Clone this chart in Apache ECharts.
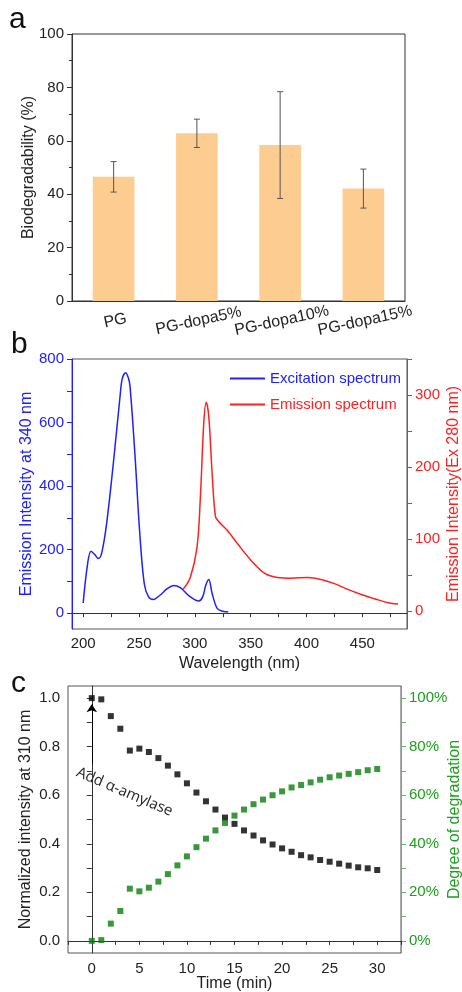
<!DOCTYPE html>
<html>
<head>
<meta charset="utf-8">
<script src="https://cdn.jsdelivr.net/npm/echarts@6/dist/echarts.min.js"></script>
<style>
html,body{margin:0;padding:0;background:#fff;}
#chart{width:462px;height:992px;}
</style>
</head>
<body>
<div id="chart"></div>
<script>
// ---------- Panel a data ----------
const aCategories = ['PG', 'PG-dopa5%', 'PG-dopa10%', 'PG-dopa15%'];
const aValues = [46.5, 62.8, 58.4, 42.1];
const aErrors = [5.7, 5.3, 20.0, 7.3];

// ---------- Panel b data ----------
const bExcitation = [[200,32],[204,156],[207,195],[210,186],[213.5,172],[216.5,188],[221,282],[227,471],[233,681],[235,738],[238,757],[240.5,740],[242,713],[246.5,492],[250.5,261],[254.7,93],[258.6,51],[263,43],[269,57],[275,76],[281,87],[287,80],[296,51],[303.5,38],[307,51],[310,90],[312.5,106],[315.5,62],[320,15],[325,6],[330,4]];
const bEmission = [[289.5,30],[296,47],[302,89],[305,159],[308,261],[310.2,290],[312.5,270],[315.5,191],[318.5,131],[321.5,124],[329,112],[338,94],[350,71],[362,53],[374,46.5],[386,45.6],[401,46.5],[413,43.7],[425,38],[437,30],[449,23],[461,17],[473,11.5],[482,9.6]];

// ---------- Panel c data ----------
const cTime = [0,1,2,3,4,5,6,7,8,9,10,11,12,13,14,15,16,17,18,19,20,21,22,23,24,25,26,27,28,29,30];
const cIntensity = [1.0,0.995,0.926,0.874,0.784,0.792,0.778,0.753,0.722,0.686,0.649,0.611,0.575,0.541,0.508,0.482,0.455,0.434,0.414,0.397,0.381,0.367,0.353,0.344,0.333,0.326,0.318,0.310,0.303,0.299,0.292];
const cDegradation = [0,0.3,7.1,12.3,21.5,20.4,21.9,24.4,27.5,31.1,34.8,38.6,42.1,45.5,48.6,51.6,54.1,56.3,58.2,60.0,61.6,63.2,64.2,65.3,66.4,67.4,68.1,68.8,69.5,70.3,70.8];

const FONT = 'Liberation Sans, Arial, sans-serif';
const BLUE = '#2020ff', RED = '#ff2020', GREEN_M = '#0a7d0a', GREEN_T = '#1e9e1e', GREEN_AX = '#5cb85c';
const AX = '#333';

const chart = echarts.init(document.getElementById('chart'), null, {renderer: 'canvas'});

function lbl(color, size) {
  return {color: color, fontSize: size || 15, fontFamily: FONT};
}

const option = {
  animation: false,
  backgroundColor: '#fff',
  textStyle: {fontFamily: FONT},
  graphic: [
    {type: 'text', x: 9, y: 5, style: {text: 'a', fontSize: 30, fontFamily: FONT, fill: '#111'}},
    {type: 'text', x: 11, y: 330, style: {text: 'b', fontSize: 30, fontFamily: FONT, fill: '#111'}},
    {type: 'text', x: 11, y: 669, style: {text: 'c', fontSize: 30, fontFamily: FONT, fill: '#111'}},
    {type: 'text', x: 80, y: 765, rotation: -23 * Math.PI / 180,
     style: {text: 'Add \u03b1-amylase', fontSize: 15, fontFamily: 'Open Sans, sans-serif', fill: '#222'}}
  ],
  legend: {
    data: [
      {name: 'Excitation spectrum', textStyle: {color: BLUE}},
      {name: 'Emission spectrum', textStyle: {color: RED}}
    ],
    icon: 'rect',
    orient: 'vertical', left: 225, top: 366, itemWidth: 35, itemHeight: 2, itemGap: 11,
    textStyle: {fontSize: 15, fontFamily: FONT}
  },
  grid: [
    {left: 72, top: 34, width: 333, height: 267, show: true, borderColor: AX, borderWidth: 1, backgroundColor: 'transparent', outerBoundsMode: 'none', containLabel: false},
    {left: 72, top: 359, width: 335, height: 270, show: true, borderColor: '#555', borderWidth: 1, backgroundColor: 'transparent', outerBoundsMode: 'none', containLabel: false},
    {left: 68, top: 686, width: 333, height: 267, show: true, borderColor: '#555', borderWidth: 1, backgroundColor: 'transparent', outerBoundsMode: 'none', containLabel: false}
  ],
  xAxis: [
    {gridIndex: 0, type: 'category', data: aCategories,
     axisLine: {lineStyle: {color: AX}}, axisTick: {alignWithLabel: true, length: 5, lineStyle: {color: AX}},
     axisLabel: Object.assign(lbl('#222', 16), {rotate: 12, align: 'center', verticalAlign: 'top', margin: 12, interval: 0}),
     splitLine: {show: false}},
    {gridIndex: 1, type: 'value', min: 190, max: 490,
     axisLine: {lineStyle: {color: AX}},
     axisTick: {length: 4, lineStyle: {color: AX}, customValues: [200,225,250,275,300,325,350,375,400,425,450,475]},
     axisLabel: Object.assign(lbl('#222', 15), {customValues: [200,250,300,350,400,450], margin: 7}),
     splitLine: {show: false},
     name: 'Wavelength (nm)', nameLocation: 'middle', nameGap: 27, nameMoveOverlap: false, nameTextStyle: lbl('#222', 16)},
    {gridIndex: 2, type: 'value', min: -2.5, max: 32.5,
     axisLine: {lineStyle: {color: AX}},
     axisTick: {length: 4, lineStyle: {color: AX}, customValues: [-2.5,0,2.5,5,7.5,10,12.5,15,17.5,20,22.5,25,27.5,30,32.5]},
     axisLabel: Object.assign(lbl('#222', 15), {customValues: [0,5,10,15,20,25,30], margin: 8}),
     splitLine: {show: false},
     name: 'Time (min)', nameLocation: 'middle', nameGap: 23, nameMoveOverlap: false, nameTextStyle: lbl('#222', 16)}
  ],
  yAxis: [
    {gridIndex: 0, type: 'value', min: 0, max: 100, interval: 20,
     axisLine: {show: true, lineStyle: {color: AX}},
     axisTick: {show: true, length: 5, lineStyle: {color: AX}},
     minorTick: {show: true, splitNumber: 2, length: 3, lineStyle: {color: AX}},
     axisLabel: Object.assign(lbl('#222', 15), {margin: 8}),
     splitLine: {show: false},
     name: 'Biodegradability (%)', nameLocation: 'middle', nameGap: 35, nameMoveOverlap: false, nameTextStyle: lbl('#222', 16)},
    {gridIndex: 1, type: 'value', min: -50, max: 800,
     axisLine: {show: true, lineStyle: {color: BLUE}},
     axisTick: {show: true, length: 5, lineStyle: {color: BLUE}, customValues: [0,100,200,300,400,500,600,700,800]},
     axisLabel: Object.assign(lbl(BLUE, 15), {customValues: [0,200,400,600,800], margin: 8}),
     splitLine: {show: false},
     name: 'Emission Intensity at 340 nm', nameLocation: 'middle', nameGap: 37, nameMoveOverlap: false, nameTextStyle: lbl(BLUE, 16)},
    {gridIndex: 1, type: 'value', position: 'right', min: -25, max: 350,
     axisLine: {show: true, lineStyle: {color: RED}},
     axisTick: {show: true, length: 5, lineStyle: {color: RED}, customValues: [0,50,100,150,200,250,300,350]},
     axisLabel: Object.assign(lbl(RED, 15), {customValues: [0,100,200,300], margin: 8}),
     splitLine: {show: false},
     name: 'Emission Intensity(Ex 280 nm)', nameLocation: 'middle', nameGap: 39, nameMoveOverlap: false, nameTextStyle: lbl(RED, 16)},
    {gridIndex: 2, type: 'value', min: -0.05, max: 1.05,
     axisLine: {show: true, lineStyle: {color: AX}},
     axisTick: {show: true, length: 5, lineStyle: {color: AX}, customValues: [0,0.1,0.2,0.3,0.4,0.5,0.6,0.7,0.8,0.9,1.0]},
     axisLabel: Object.assign(lbl('#222', 15), {customValues: [0,0.2,0.4,0.6,0.8,1.0], margin: 8,
       formatter: function (v) { return v.toFixed(1); }}),
     splitLine: {show: false},
     name: 'Normalized intensity at 310 nm', nameLocation: 'middle', nameGap: 34, nameMoveOverlap: false, nameTextStyle: lbl('#222', 16)},
    {gridIndex: 2, type: 'value', position: 'right', min: -5, max: 105,
     axisLine: {show: true, lineStyle: {color: GREEN_AX}},
     axisTick: {show: true, length: 5, lineStyle: {color: GREEN_AX}, customValues: [0,10,20,30,40,50,60,70,80,90,100]},
     axisLabel: Object.assign(lbl(GREEN_T, 15), {customValues: [0,20,40,60,80,100], margin: 8,
       formatter: function (v) { return v + '%'; }}),
     splitLine: {show: false},
     name: 'Degree of degradation', nameLocation: 'middle', nameGap: 46, nameMoveOverlap: false, nameTextStyle: lbl(GREEN_T, 16)}
  ],
  series: [
    {type: 'bar', xAxisIndex: 0, yAxisIndex: 0, data: aValues, barWidth: '50%', z: 2,
     itemStyle: {color: '#fdcc91'}},
    {type: 'custom', xAxisIndex: 0, yAxisIndex: 0, z: 10,
     data: aValues.map(function (v, i) { return [i, v - aErrors[i], v + aErrors[i]]; }),
     encode: {x: 0, y: [1, 2]},
     renderItem: function (params, api) {
       const lo = api.coord([api.value(0), api.value(1)]);
       const hi = api.coord([api.value(0), api.value(2)]);
       const hw = 3;
       const st = {stroke: '#555', lineWidth: 1};
       return {type: 'group', children: [
         {type: 'line', shape: {x1: hi[0], y1: hi[1], x2: lo[0], y2: lo[1]}, style: st},
         {type: 'line', shape: {x1: hi[0] - hw, y1: hi[1], x2: hi[0] + hw, y2: hi[1]}, style: st},
         {type: 'line', shape: {x1: lo[0] - hw, y1: lo[1], x2: lo[0] + hw, y2: lo[1]}, style: st}
       ]};
     }},
    {name: 'Excitation spectrum', type: 'line', xAxisIndex: 1, yAxisIndex: 1, data: bExcitation,
     symbol: 'none', smooth: 0.35, lineStyle: {color: BLUE, width: 1.5}, itemStyle: {color: BLUE}},
    {name: 'Emission spectrum', type: 'line', xAxisIndex: 1, yAxisIndex: 2, data: bEmission,
     symbol: 'none', smooth: 0.35, lineStyle: {color: RED, width: 1.5}, itemStyle: {color: RED}},
    {type: 'scatter', xAxisIndex: 2, yAxisIndex: 3,
     data: cTime.map(function (t, i) { return [t, cIntensity[i]]; }),
     symbol: 'rect', symbolSize: 6, itemStyle: {color: '#000'},
     markLine: {silent: true, symbol: ['none', 'arrow'], symbolSize: 8, label: {show: false},
       lineStyle: {color: '#000', width: 1, type: 'solid'},
       data: [[{coord: [0, 0.73]}, {coord: [0, 0.975]}]]}},
    {type: 'scatter', xAxisIndex: 2, yAxisIndex: 4,
     data: cTime.map(function (t, i) { return [t, cDegradation[i]]; }),
     symbol: 'rect', symbolSize: 6, itemStyle: {color: GREEN_M}}
  ]
};
chart.setOption(option);
</script>
</body>
</html>
